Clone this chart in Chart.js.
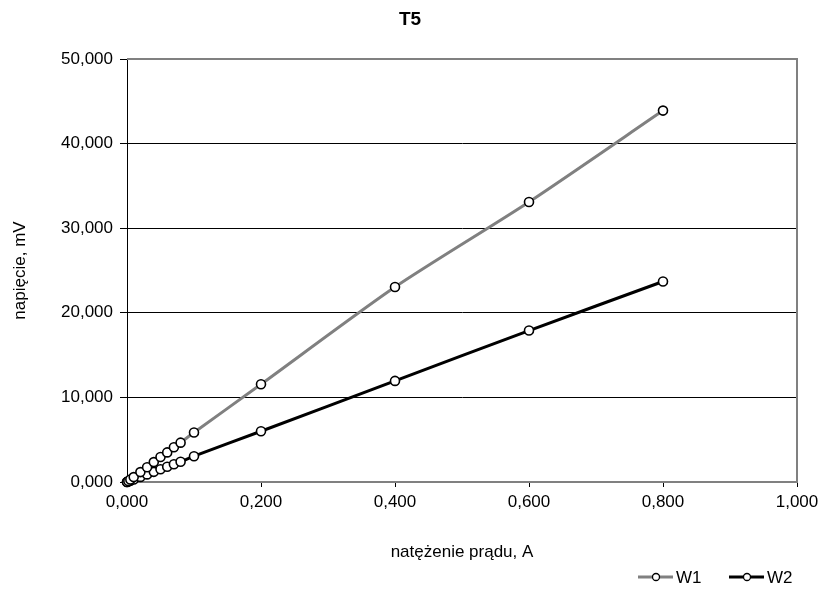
<!DOCTYPE html>
<html><head><meta charset="utf-8">
<script src="https://cdn.jsdelivr.net/npm/chart.js@4.4.0/dist/chart.umd.min.js"></script>
<style>html,body{margin:0;padding:0;background:#fff;}#wrap{width:824px;height:590px;}</style>
</head><body><div id="wrap"><canvas id="c" width="824" height="590"></canvas></div>
<script>
const chartTitle = "T5";
const xAxisTitle = "natężenie prądu, A";
const yAxisTitle = "napięcie, mV";
const seriesNames = ["W1", "W2"];
const currentA = [0, 0.002, 0.005, 0.01, 0.02, 0.03, 0.04, 0.05, 0.06, 0.07, 0.08, 0.1, 0.2, 0.4, 0.6, 0.8];
const w1mV = [0, 120, 290, 580, 1170, 1750, 2350, 2950, 3500, 4100, 4650, 5850, 11550, 23050, 33100, 43900];
const w2mV = [0, 60, 150, 300, 600, 900, 1200, 1500, 1800, 2100, 2400, 3050, 6000, 11950, 17900, 23700];
const xTicks = [0, 0.2, 0.4, 0.6, 0.8, 1.0];
const yTicks = [0, 10000, 20000, 30000, 40000, 50000];

const fmt = (v, d) => v.toFixed(d).replace('.', ',');
const yLabel = v => { const s = Math.round(v).toString(); return s.length > 3 ? s.slice(0, -3) + ',' + s.slice(-3) : '0,' + s.padStart(3, '0'); };

const font = "'Liberation Sans', Arial, sans-serif";
const pts = arr => currentA.map((x, i) => ({x, y: arr[i]}));

const framePlugin = {
  id: 'frame',
  beforeDatasetsDraw(chart) {
    const {ctx, chartArea: a} = chart;
    ctx.save();
    ctx.strokeStyle = '#808080'; ctx.lineWidth = 2;
    ctx.beginPath();
    ctx.moveTo(a.left, a.top); ctx.lineTo(a.right, a.top); ctx.lineTo(a.right, a.bottom);
    ctx.stroke();
    ctx.restore();
  },
  afterDraw(chart) {
    const {ctx} = chart;
    ctx.save();
    // title
    ctx.fillStyle = '#000';
    ctx.font = "bold 19px " + font;
    ctx.textAlign = 'center'; ctx.textBaseline = 'middle';
    ctx.fillText(chartTitle, 410, 20);
    // legend
    const items = [{name: seriesNames[0], color: '#808080', x: 638}, {name: seriesNames[1], color: '#000', x: 729}];
    ctx.font = "17px " + font;
    ctx.textAlign = 'left';
    items.forEach(it => {
      const y = 577;
      ctx.strokeStyle = it.color; ctx.lineWidth = 3;
      ctx.beginPath(); ctx.moveTo(it.x, y); ctx.lineTo(it.x + 35, y); ctx.stroke();
      ctx.beginPath(); ctx.arc(it.x + 18, y, 3.5, 0, Math.PI * 2);
      ctx.fillStyle = '#fff'; ctx.fill();
      ctx.strokeStyle = '#000'; ctx.lineWidth = 1.3; ctx.stroke();
      ctx.fillStyle = '#000';
      ctx.fillText(it.name, it.x + 38, y + 1);
    });
    ctx.restore();
  }
};

new Chart(document.getElementById('c'), {
  type: 'line',
  data: {
    datasets: [
      {label: seriesNames[0], data: pts(w1mV), borderColor: '#808080', borderWidth: 3, tension: 0.25, clip: false,
       pointRadius: 4.5, pointBackgroundColor: '#fff', pointBorderColor: '#000', pointBorderWidth: 1.6},
      {label: seriesNames[1], data: pts(w2mV), borderColor: '#000', borderWidth: 3, tension: 0.25, clip: false,
       pointRadius: 4.5, pointBackgroundColor: '#fff', pointBorderColor: '#000', pointBorderWidth: 1.6}
    ]
  },
  options: {
    responsive: false, animation: false, devicePixelRatio: 1,
    layout: {padding: {top: 59, right: 27, left: 0, bottom: 0}},
    plugins: {legend: {display: false}, title: {display: false}, tooltip: {enabled: false}},
    scales: {
      x: {
        type: 'linear', min: 0, max: 1,
        afterBuildTicks: s => { s.ticks = xTicks.map(v => ({value: v})); },
        afterFit: s => { s.height = 108; },
        ticks: {callback: v => fmt(v, 3), color: '#000', font: {family: font, size: 17}, padding: 5, maxRotation: 0},
        grid: {display: true, drawOnChartArea: false, drawTicks: true, tickLength: 5, color: '#000', lineWidth: 1},
        border: {display: true, color: '#808080', width: 2},
        title: {display: true, text: xAxisTitle, color: '#000', font: {family: font, size: 17}, padding: {top: 0, bottom: 27}}
      },
      y: {
        type: 'linear', min: 0, max: 50000,
        afterBuildTicks: s => { s.ticks = yTicks.map(v => ({value: v})); },
        afterFit: s => { s.width = 127; },
        ticks: {callback: v => yLabel(v), color: '#000', font: {family: font, size: 17}, padding: 7},
        grid: {display: true, drawTicks: true, tickLength: 7, color: '#000', lineWidth: 1},
        border: {display: true, color: '#000', width: 1},
        title: {display: true, text: yAxisTitle, color: '#000', font: {family: font, size: 17}, padding: {top: 10, bottom: 0}}
      }
    }
  },
  plugins: [framePlugin]
});
</script>
</body></html>
